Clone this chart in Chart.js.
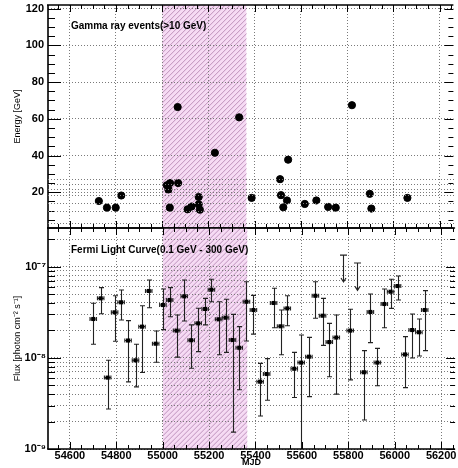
<!DOCTYPE html>
<html><head><meta charset="utf-8">
<script src="https://cdn.jsdelivr.net/npm/chart.js@4.4.0/dist/chart.umd.min.js"></script>
<style>
html,body{margin:0;padding:0;background:#fff;}
#wrap{position:relative;width:458px;height:468px;}
canvas{position:absolute;left:0;top:0;}
</style></head><body>
<div id="wrap"><canvas id="cTop" width="458" height="468"></canvas><canvas id="cBot" width="458" height="468"></canvas></div>
<script>
// ---- data ----
const eventMjd = [54726, 54761, 54799, 54823, 55020, 55034, 55027, 55069, 55067, 55033, 55110, 55127, 55158, 55158, 55163, 55228, 55333, 55387, 55545, 55510, 55514, 55540, 55524, 55617, 55667, 55718, 55751, 55821, 55898, 55905, 56061];
const eventEnergy = [15.2, 11.6, 11.6, 18.2, 23.8, 25.0, 21.5, 25.0, 66.4, 11.6, 10.7, 12.2, 17.4, 13.4, 10.5, 41.5, 60.8, 16.9, 37.7, 27.1, 18.4, 15.5, 11.8, 13.6, 15.5, 12.0, 11.6, 67.4, 19.1, 11.1, 16.9];

const fluxMjd = [54701, 54733, 54763, 54793, 54821, 54851, 54883, 54911, 54940, 54970, 55001, 55030, 55060, 55093, 55123, 55153, 55183, 55210, 55241, 55271, 55301, 55330, 55361, 55391, 55420, 55448, 55478, 55508, 55537, 55567, 55597, 55630, 55658, 55689, 55718, 55748, 55808, 55867, 55895, 55925, 55955, 55982, 56012, 56044, 56075, 56104, 56129];
const flux = [2.67e-8, 4.5e-8, 6.07e-9, 3.16e-8, 4.07e-8, 1.55e-8, 9.4e-9, 2.2e-8, 5.42e-8, 1.43e-8, 3.8e-8, 4.32e-8, 1.99e-8, 4.73e-8, 1.56e-8, 2.39e-8, 3.44e-8, 5.6e-8, 2.65e-8, 2.76e-8, 1.57e-8, 1.29e-8, 4.13e-8, 3.35e-8, 5.48e-9, 6.65e-9, 4.0e-8, 2.22e-8, 3.49e-8, 7.6e-9, 8.87e-9, 1.03e-8, 4.8e-8, 2.9e-8, 1.49e-8, 1.67e-8, 1.99e-8, 6.95e-9, 3.19e-8, 8.87e-9, 3.9e-8, 5.32e-8, 6.14e-8, 1.09e-8, 2.02e-8, 1.91e-8, 3.35e-8];
const fluxHigh = [3.97e-8, 5.9e-8, 9.4e-9, 4.8e-8, 5.55e-8, 2.56e-8, 1.41e-8, 3.73e-8, 7.15e-8, 1.97e-8, 5.69e-8, 5.9e-8, 2.95e-8, 7.15e-8, 2.3e-8, 3.5e-8, 4.5e-8, 7.28e-8, 4.13e-8, 4.4e-8, 3.0e-8, 2.2e-8, 6.85e-8, 4.85e-8, 8.7e-9, 9.8e-9, 5.8e-8, 3.35e-8, 4.8e-8, 1.15e-8, 1.78e-8, 1.68e-8, 6.85e-8, 4.5e-8, 2.39e-8, 2.95e-8, 3.41e-8, 1.2e-8, 5.02e-8, 1.27e-8, 5.69e-8, 7.28e-8, 7.9e-8, 1.71e-8, 3.03e-8, 2.67e-8, 5.46e-8];
const fluxLow = [1.41e-8, 3.05e-8, 2.75e-9, 1.52e-8, 2.6e-8, 5.45e-9, 4.8e-9, 6.9e-9, 3.55e-8, 8.95e-9, 2.04e-8, 2.83e-8, 1.02e-8, 2.54e-8, 7.7e-9, 1.17e-8, 2.3e-8, 4.13e-8, 1.08e-8, 1.15e-8, 1.53e-9, 4.47e-9, 1.53e-8, 1.82e-8, 2.3e-9, 3.43e-9, 2.14e-8, 1.08e-8, 2.25e-8, 3.67e-9, 5e-10, 3.76e-9, 2.72e-8, 1.37e-8, 6.2e-9, 4.0e-9, 5.73e-9, 2.08e-9, 1.47e-8, 4.95e-9, 2.14e-8, 3.49e-8, 4.32e-8, 4.71e-9, 9.97e-9, 1.05e-8, 1.2e-8];
const binHalfWidth = 14;           // MJD
const ulMjd = [55776, 55837];
const ulFlux = [1.34e-7, 1.10e-7];
const ulArrowTo = [6.8e-8, 5.5e-8];

const shadeRange = [55000, 55365];
const mjdTicks = [54600, 54800, 55000, 55200, 55400, 55600, 55800, 56000, 56200];
const energyTicks = [20, 40, 60, 80, 100, 120];
const fluxDecades = [1e-9, 1e-8, 1e-7];
const topTitle = 'Gamma ray events(>10 GeV)';
const botTitle = 'Fermi Light Curve(0.1 GeV - 300 GeV)';

// ---- helpers ----
const FONT = '"Liberation Sans", Arial, sans-serif';
const X_MIN = 54506, X_MAX = 56260;
const SUP = {'-':'\u207B','0':'\u2070','1':'\u00B9','2':'\u00B2','3':'\u00B3','4':'\u2074','5':'\u2075','6':'\u2076','7':'\u2077','8':'\u2078','9':'\u2079'};
function decadeLabel(v) {
  const e = Math.log10(v);
  if (Math.abs(e - Math.round(e)) > 1e-6) return '';
  return '10' + String(Math.round(e)).split('').map(c => SUP[c]).join('');
}
const fluxGrid = [];
fluxDecades.forEach(d => { for (let k = 1; k <= 9; k++) fluxGrid.push(k * d); });

function drawHatch(chart) {
  const {ctx, chartArea: a, scales: {x}} = chart;
  const x1 = x.getPixelForValue(shadeRange[0]), x2 = x.getPixelForValue(shadeRange[1]);
  ctx.save();
  ctx.beginPath(); ctx.rect(x1, a.top, x2 - x1, a.bottom - a.top); ctx.clip();
  ctx.fillStyle = '#f6dbf4';
  ctx.fillRect(x1, a.top, x2 - x1, a.bottom - a.top);
  ctx.strokeStyle = '#b88ab6'; ctx.lineWidth = 0.9;
  const h = a.bottom - a.top;
  ctx.beginPath();
  for (let xx = x1 - h - 2; xx < x2 + 2; xx += 5) {
    ctx.moveTo(xx, a.bottom); ctx.lineTo(xx + h, a.top);
  }
  ctx.stroke();
  ctx.restore();
}

function drawFrame(chart, yTicks) {
  const {ctx, chartArea: a, scales: {x, y}} = chart;
  ctx.save();
  ctx.strokeStyle = '#000';
  ctx.lineWidth = 1.6;
  ctx.beginPath();
  ctx.moveTo(a.left, a.top); ctx.lineTo(a.left, a.bottom);
  ctx.moveTo(a.left - 1, a.bottom); ctx.lineTo(a.right, a.bottom);
  ctx.moveTo(a.left - 1, a.top); ctx.lineTo(a.right, a.top);
  ctx.stroke();
  ctx.lineWidth = 1;
  ctx.beginPath();
  for (let v = 54550; v <= X_MAX; v += 50) {
    if (v < X_MIN) continue;
    const px = Math.round(x.getPixelForValue(v)) + 0.5;
    const L = (v % 200 === 0) ? 7 : 4;
    ctx.moveTo(px, a.bottom); ctx.lineTo(px, a.bottom - L);
    ctx.moveTo(px, a.top); ctx.lineTo(px, a.top + L);
  }
  yTicks.forEach(t => {
    const py = Math.round(y.getPixelForValue(t.v)) + 0.5;
    if (py < a.top - 0.5 || py > a.bottom + 0.5) return;
    const L = t.major ? 13 : 7;
    ctx.moveTo(a.left, py); ctx.lineTo(a.left + L, py);
    ctx.moveTo(a.right, py); ctx.lineTo(a.right - (t.major ? 9 : 5), py);
  });
  ctx.stroke();
  ctx.restore();
}

function drawLabel(chart, text, px, py) {
  const {ctx} = chart;
  ctx.save();
  ctx.font = 'bold 10px ' + FONT;
  ctx.fillStyle = '#000';
  ctx.textBaseline = 'middle';
  ctx.fillText(text, px, py);
  ctx.restore();
}

const noPad = s => { s.paddingTop = 0; s.paddingBottom = 0; s.paddingLeft = 0; s.paddingRight = 0; };

// ---- top panel ----
const topYTicks = [];
for (let v = 5; v <= 120; v += 5) topYTicks.push({v, major: v % 20 === 0});

new Chart(document.getElementById('cTop'), {
  type: 'scatter',
  data: { datasets: [{
    data: eventMjd.map((m, i) => ({x: m, y: eventEnergy[i]})),
    backgroundColor: '#000', borderColor: '#000', pointRadius: 3.6, pointHoverRadius: 3.6
  }]},
  options: {
    responsive: false, animation: false, devicePixelRatio: 1,
    layout: { padding: {left: 0, top: 5, right: 1, bottom: 240} },
    plugins: { legend: {display: false}, tooltip: {enabled: false} },
    scales: {
      x: {
        type: 'linear', min: X_MIN, max: X_MAX,
        afterBuildTicks: s => { s.ticks = mjdTicks.map(v => ({value: v})); },
        afterFit: s => { s.height = 0; noPad(s); },
        ticks: {display: false},
        grid: {color: '#7a7a7a', lineWidth: 1, drawTicks: false, borderDash: [1, 2]},
        border: {display: false, dash: [1, 2]}
      },
      y: {
        type: 'linear', min: 0.5, max: 122,
        afterBuildTicks: s => { s.ticks = energyTicks.map(v => ({value: v})); },
        afterFit: s => { s.width = 48; noPad(s); },
        ticks: {color: '#000', padding: 4, font: {family: FONT, size: 11, weight: 'bold'}, autoSkip: false},
        grid: {color: '#7a7a7a', lineWidth: 1, drawTicks: false, borderDash: [1, 2]},
        border: {display: false, dash: [1, 2]},
        title: {display: true, text: 'Energy [GeV]', color: '#000', font: {family: FONT, size: 9}, padding: {top: 12, bottom: 0}}
      }
    }
  },
  plugins: [{
    id: 'topDeco',
    beforeDraw: c => drawHatch(c),
    afterDraw: c => { drawFrame(c, topYTicks); drawLabel(c, topTitle, 71, 26); }
  }]
});

// ---- bottom panel ----
const botYTicks = fluxGrid.map(v => ({v, major: decadeLabel(v) !== ''}));

function drawErrors(chart) {
  const {ctx, chartArea: a, scales: {x, y}} = chart;
  ctx.save();
  ctx.beginPath(); ctx.rect(a.left, a.top, a.right - a.left, a.bottom - a.top); ctx.clip();
  ctx.strokeStyle = '#222'; ctx.lineWidth = 1.1;
  ctx.beginPath();
  fluxMjd.forEach((m, i) => {
    const px = Math.round(x.getPixelForValue(m)) + 0.5;
    const py = y.getPixelForValue(flux[i]);
    const yh = y.getPixelForValue(fluxHigh[i]);
    const yl = y.getPixelForValue(fluxLow[i]);
    ctx.moveTo(px, yh); ctx.lineTo(px, yl);
    ctx.moveTo(px - 2.5, yh); ctx.lineTo(px + 2.5, yh);
    ctx.moveTo(px - 2.5, yl); ctx.lineTo(px + 2.5, yl);
    const xa = x.getPixelForValue(m - binHalfWidth), xb = x.getPixelForValue(m + binHalfWidth);
    ctx.moveTo(xa, py); ctx.lineTo(xb, py);
    ctx.moveTo(xa, py - 2); ctx.lineTo(xa, py + 2);
    ctx.moveTo(xb, py - 2); ctx.lineTo(xb, py + 2);
  });
  ulMjd.forEach((m, i) => {
    const px = Math.round(x.getPixelForValue(m)) + 0.5;
    const yt = y.getPixelForValue(ulFlux[i]);
    const yb = y.getPixelForValue(ulArrowTo[i]);
    ctx.moveTo(px - 3.5, yt); ctx.lineTo(px + 3.5, yt);
    ctx.moveTo(px, yt); ctx.lineTo(px, yb);
    ctx.moveTo(px - 2.5, yb - 4); ctx.lineTo(px, yb); ctx.lineTo(px + 2.5, yb - 4);
  });
  ctx.stroke();
  ctx.restore();
}

new Chart(document.getElementById('cBot'), {
  type: 'scatter',
  data: { datasets: [{
    data: fluxMjd.map((m, i) => ({x: m, y: flux[i]})),
    backgroundColor: '#000', borderColor: '#000', pointStyle: 'rect', pointRadius: 2.9, pointHoverRadius: 2.9, borderWidth: 0
  }]},
  options: {
    responsive: false, animation: false, devicePixelRatio: 1,
    layout: { padding: {left: 0, top: 228, right: 1, bottom: 0} },
    plugins: { legend: {display: false}, tooltip: {enabled: false} },
    scales: {
      x: {
        type: 'linear', min: X_MIN, max: X_MAX,
        afterBuildTicks: s => { s.ticks = mjdTicks.map(v => ({value: v})); },
        afterFit: s => { s.height = 19; noPad(s); },
        ticks: {color: '#000', padding: 0, maxRotation: 0, autoSkip: false, font: {family: FONT, size: 11, weight: 'bold'}, callback: v => String(v)},
        grid: {color: '#7a7a7a', lineWidth: 1, drawTicks: false, borderDash: [1, 2]},
        border: {display: false, dash: [1, 2]},
        title: {display: true, text: 'MJD', color: '#000', font: {family: FONT, size: 9, weight: 'bold'}, padding: {top: 0, bottom: 0}}
      },
      y: {
        type: 'logarithmic', min: 1e-9, max: 2.66e-7,
        afterBuildTicks: s => { s.ticks = fluxGrid.map(v => ({value: v})); },
        afterFit: s => { s.width = 48; noPad(s); },
        ticks: {color: '#000', padding: 2, autoSkip: false, font: {family: FONT, size: 11, weight: 'bold'}, callback: v => decadeLabel(v)},
        grid: {color: '#7a7a7a', lineWidth: 1, drawTicks: false, borderDash: [1, 2]},
        border: {display: false, dash: [1, 2]},
        title: {display: true, text: 'Flux [photon cm\u207B\u00B2 s\u207B\u00B9]', color: '#000', font: {family: FONT, size: 9}, padding: {top: 12, bottom: 0}}
      }
    }
  },
  plugins: [{
    id: 'botDeco',
    beforeDraw: c => drawHatch(c),
    beforeDatasetsDraw: c => drawErrors(c),
    afterDraw: c => { drawFrame(c, botYTicks); drawLabel(c, botTitle, 71, 250); }
  }]
});
</script>
</body></html>
